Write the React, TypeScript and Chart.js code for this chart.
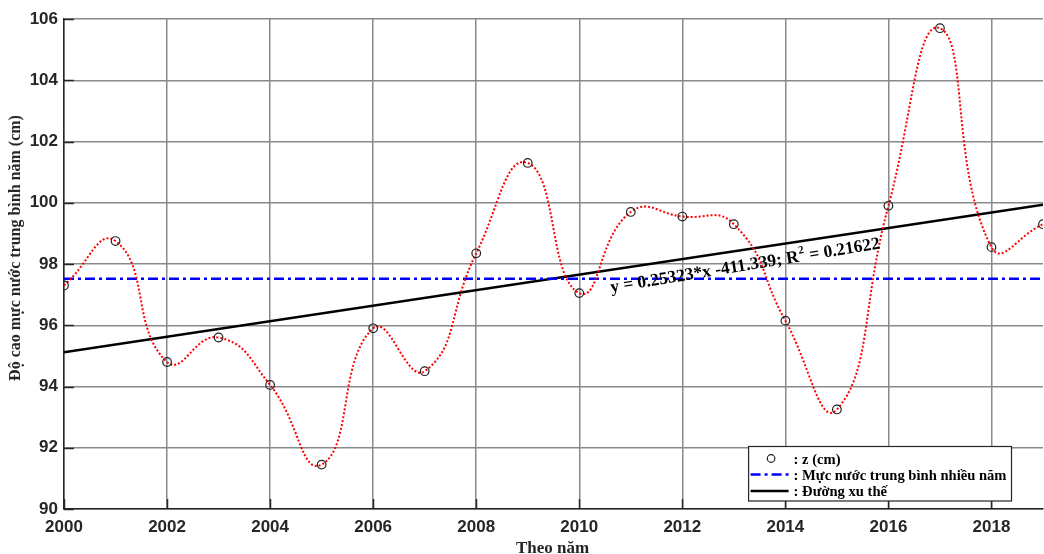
import { useEffect, useRef } from "react";
import { Chart, registerables } from "chart.js";

Chart.register(...registerables);

// ---- data ----
const YEARS = [2000, 2001, 2002, 2003, 2004, 2005, 2006, 2007, 2008, 2009, 2010, 2011, 2012, 2013, 2014, 2015, 2016, 2017, 2018, 2019];
const Z_CM = [97.3, 98.75, 94.8, 95.6, 94.05, 91.45, 95.9, 94.5, 98.35, 101.3, 97.05, 99.7, 99.55, 99.3, 96.15, 93.25, 99.9, 105.7, 98.55, 99.3];
const MEAN_X = [2000, 2019];
const MEAN_Y = [97.52, 97.52];
const TREND_X = [2000, 2019];
const TREND_Y = [95.121, 99.932];
const X_TICKS = [2000, 2002, 2004, 2006, 2008, 2010, 2012, 2014, 2016, 2018];
const Y_TICKS = [90, 92, 94, 96, 98, 100, 102, 104, 106];

const LABEL_Z = ": z (cm)";
const LABEL_MEAN = ": Mực nước trung bình nhiều năm";
const LABEL_TREND = ": Đường xu thế";
const X_TITLE = "Theo năm";
const Y_TITLE = "Độ cao mực nước trung bình năm (cm)";
const EQ_MAIN = "y = 0.25323*x -411.339; R";
const EQ_SUP = "2";
const EQ_TAIL = " = 0.21622";

const SERIF = '"Liberation Serif", "Times New Roman", serif';
const SANS = '"Liberation Sans", Arial, sans-serif';

const decorPlugin = {
  id: "decor",
  afterDatasetsDraw(chart: any) {
    const { ctx, chartArea: a, scales } = chart;
    const xs = scales.x;
    const ys = scales.y;
    ctx.save();

    // inward tick marks
    ctx.strokeStyle = "#262626";
    ctx.lineWidth = 1.5;
    for (const t of Y_TICKS) {
      const py = Math.round(ys.getPixelForValue(t)) + 0.5;
      ctx.beginPath();
      ctx.moveTo(a.left, py);
      ctx.lineTo(a.left + 10, py);
      ctx.stroke();
    }
    for (const t of X_TICKS) {
      const px = Math.round(xs.getPixelForValue(t)) + 0.5;
      ctx.beginPath();
      ctx.moveTo(px, a.bottom);
      ctx.lineTo(px, a.bottom - 10);
      ctx.stroke();
    }

    // equation annotation along trend line
    const ax = xs.getPixelForValue(2010.62);
    const ay = ys.getPixelForValue(97.07);
    ctx.save();
    ctx.translate(ax, ay);
    ctx.rotate((-9.3 * Math.PI) / 180);
    ctx.fillStyle = "#000";
    ctx.textAlign = "left";
    ctx.textBaseline = "alphabetic";
    ctx.font = `bold 17.5px ${SERIF}`;
    ctx.fillText(EQ_MAIN, 0, 0);
    let w = ctx.measureText(EQ_MAIN).width;
    ctx.font = `bold 11px ${SERIF}`;
    ctx.fillText(EQ_SUP, w + 0.5, -8);
    w += ctx.measureText(EQ_SUP).width + 1;
    ctx.font = `bold 17.5px ${SERIF}`;
    ctx.fillText(EQ_TAIL, w, 0);
    ctx.restore();

    // legend box
    const ds = chart.data.datasets;
    const rows = [
      { ds: ds[0], text: LABEL_Z, kind: "marker" },
      { ds: ds[2], text: LABEL_MEAN, kind: "line" },
      { ds: ds[3], text: LABEL_TREND, kind: "line" },
    ];
    const LF = `bold 14.6px ${SERIF}`;
    ctx.font = LF;
    let tw = 0;
    for (const r of rows) tw = Math.max(tw, ctx.measureText(r.text).width);
    const bw = 45 + tw + 5;
    const bh = 54.5;
    const bRight = a.right - 31.5;
    const bBottom = a.bottom - 8;
    const bLeft = bRight - bw;
    const bTop = bBottom - bh;
    ctx.fillStyle = "#fff";
    ctx.fillRect(bLeft, bTop, bw, bh);
    ctx.strokeStyle = "#262626";
    ctx.lineWidth = 1.2;
    ctx.strokeRect(bLeft, bTop, bw, bh);
    const baselines = [17, 33, 49.5];
    rows.forEach((r, i) => {
      const base = bTop + baselines[i];
      const cy = base - 5;
      if (r.kind === "marker") {
        ctx.beginPath();
        ctx.arc(bLeft + 22.5, cy, 3.8, 0, Math.PI * 2);
        ctx.strokeStyle = r.ds.pointBorderColor;
        ctx.lineWidth = 1.2;
        ctx.stroke();
      } else {
        ctx.beginPath();
        ctx.setLineDash(r.ds.borderDash || []);
        ctx.strokeStyle = r.ds.borderColor;
        ctx.lineWidth = r.ds.borderWidth;
        ctx.moveTo(bLeft + 2, cy);
        ctx.lineTo(bLeft + 40, cy);
        ctx.stroke();
        ctx.setLineDash([]);
      }
      ctx.fillStyle = "#000";
      ctx.textAlign = "left";
      ctx.textBaseline = "alphabetic";
      ctx.font = LF;
      ctx.fillText(r.text, bLeft + 45, base);
    });

    // axis titles
    ctx.fillStyle = "#262626";
    ctx.font = `bold 17px ${SERIF}`;
    ctx.textAlign = "center";
    ctx.textBaseline = "alphabetic";
    ctx.fillText(X_TITLE, (a.left + a.right) / 2 - 1, 553);

    ctx.save();
    ctx.translate(20, 248);
    ctx.rotate(-Math.PI / 2);
    ctx.font = `bold 16px ${SERIF}`;
    ctx.fillText(Y_TITLE, 0, 0);
    ctx.restore();

    ctx.restore();
  },
};

export default function App() {
  const ref = useRef<HTMLCanvasElement | null>(null);

  useEffect(() => {
    if (!ref.current) return;
    const chart = new Chart(ref.current, {
      type: "line",
      data: {
        datasets: [
          {
            label: "z (cm)",
            data: YEARS.map((x, i) => ({ x, y: Z_CM[i] })),
            showLine: false,
            pointRadius: 4.3,
            pointStyle: "circle",
            pointBorderColor: "#222222",
            pointBackgroundColor: "rgba(0,0,0,0)",
            pointBorderWidth: 1.2,
            order: 0,
          } as any,
          {
            label: "spline",
            data: YEARS.map((x, i) => ({ x, y: Z_CM[i] })),
            borderColor: "#ff0000",
            borderDash: [2, 2],
            borderWidth: 2,
            tension: 0.5,
            pointRadius: 0,
            fill: false,
            order: 1,
          },
          {
            label: "Mực nước trung bình nhiều năm",
            data: MEAN_X.map((x, i) => ({ x, y: MEAN_Y[i] })),
            borderColor: "#0000ff",
            borderDash: [10, 4, 3, 4],
            borderWidth: 2.5,
            pointRadius: 0,
            fill: false,
            order: 2,
          },
          {
            label: "Đường xu thế",
            data: TREND_X.map((x, i) => ({ x, y: TREND_Y[i] })),
            borderColor: "#000000",
            borderWidth: 2.5,
            pointRadius: 0,
            fill: false,
            order: 3,
          },
        ],
      },
      options: {
        responsive: false,
        animation: false,
        devicePixelRatio: 1,
        layout: { autoPadding: false, padding: { top: 19, right: 1, left: 0, bottom: 0 } },
        plugins: {
          legend: { display: false },
          tooltip: { enabled: false },
        },
        scales: {
          x: {
            type: "linear",
            min: 2000,
            max: 2019,
            afterBuildTicks: (s: any) => {
              s.ticks = X_TICKS.map((v) => ({ value: v }));
            },
            afterFit: (s: any) => {
              s.height = 45;
            },
            grid: { color: "#8a8a8a", lineWidth: 1.5, drawTicks: false },
            border: { color: "#262626", width: 1.5 },
            ticks: {
              padding: 8,
              color: "#262626",
              font: { family: SANS, size: 17, weight: "bold" },
              maxRotation: 0,
              callback: (v: any) => String(v),
            },
          },
          y: {
            type: "linear",
            min: 90,
            max: 106,
            afterBuildTicks: (s: any) => {
              s.ticks = Y_TICKS.map((v) => ({ value: v }));
            },
            afterFit: (s: any) => {
              s.width = 64;
            },
            grid: { color: "#8a8a8a", lineWidth: 1.5, drawTicks: false },
            border: { color: "#262626", width: 1.5 },
            ticks: {
              padding: 6,
              color: "#262626",
              font: { family: SANS, size: 17, weight: "bold" },
              callback: (v: any) => String(v),
            },
          },
        },
      },
      plugins: [decorPlugin],
    });
    return () => chart.destroy();
  }, []);

  return (
    <div style={{ position: "absolute", left: 0, top: 0, width: 1044, height: 554, background: "#fff" }}>
      <canvas ref={ref} width={1044} height={554} style={{ display: "block" }} />
    </div>
  );
}
